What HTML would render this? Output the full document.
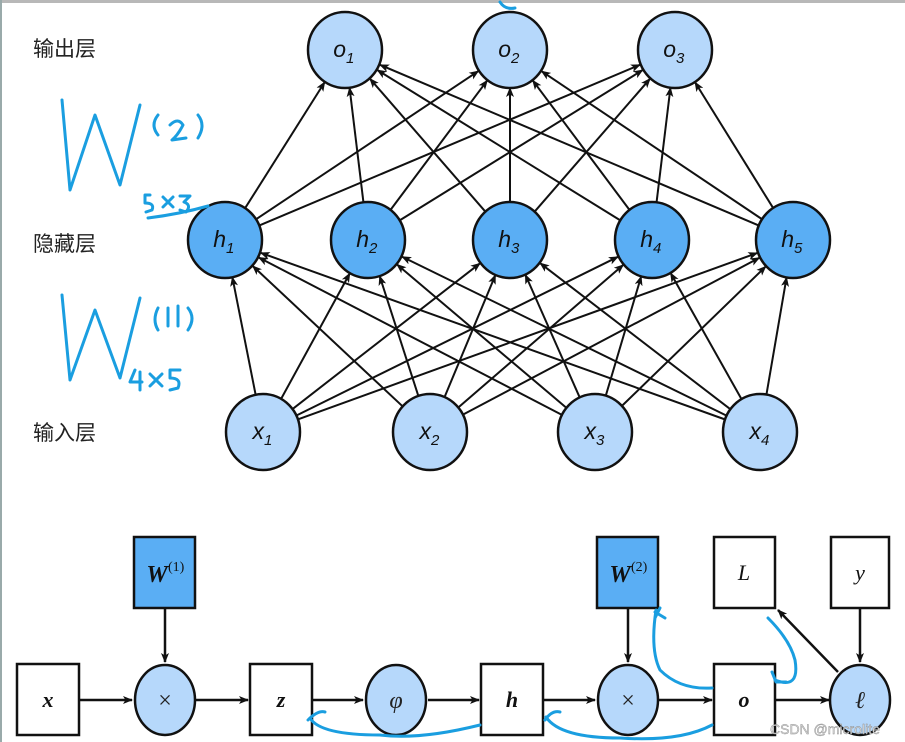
<!DOCTYPE html>
<html><head><meta charset="utf-8"><style>
html,body{margin:0;padding:0;background:#fff;}
svg{display:block;}
</style></head><body>
<svg id="s" width="905" height="742" viewBox="0 0 905 742" xmlns="http://www.w3.org/2000/svg">
<defs>
<marker id="ar" markerWidth="10" markerHeight="8" refX="9" refY="4" orient="auto" markerUnits="userSpaceOnUse">
<path d="M0,0 L10,4 L0,8 L2.5,4 Z" fill="#111"/></marker>
</defs>
<rect x="0" y="0" width="905" height="742" fill="#fff"/>
<rect x="0" y="0" width="905" height="3" fill="#b8b8b8"/>
<rect x="0" y="0" width="2" height="742" fill="#9aa"/>
<g id="edges" stroke="#111" stroke-width="2" fill="none"></g>
<g id="nodes"></g>
<g font-family="'Liberation Sans','Noto Sans CJK SC',sans-serif" font-size="21" fill="#222">
<text x="33" y="56">输出层</text>
<text x="33" y="251">隐藏层</text>
<text x="33" y="440">输入层</text>
</g>
<g fill="none" stroke="#1a9ee0" stroke-width="3" stroke-linecap="round" stroke-linejoin="round">
<path d="M62,100 L70,190 L95,115 L120,185 L140,105"/>
<path d="M158,135 Q150,125 158,115"/><path d="M170,125 Q178,117 183,125 Q178,135 172,140 L186,138"/><path d="M198,115 Q206,125 198,138"/>
<path d="M150,195 L145,195 L145,203 Q155,203 152,210 L146,212"/><path d="M163,197 L173,207 M173,197 L163,207"/><path d="M180,196 L190,196 L184,202 Q192,205 186,212 L180,210"/>
<path d="M148,218 Q180,214 208,206"/>
<path d="M62,295 L70,380 L95,310 L120,378 L140,298"/>
<path d="M158,308 Q152,320 158,330"/><path d="M168,308 L168,326 M178,306 L178,326"/><path d="M188,308 Q196,318 188,330"/>
<path d="M135,370 L130,382 L142,382 M140,372 L140,390"/><path d="M150,374 L162,386 M162,374 L150,386"/><path d="M180,370 L170,370 L170,378 Q182,378 178,388 L170,390"/>
<path d="M500,2 Q505,10 515,8"/>
<path d="M308,720 Q318,710 325,712 M310,718 Q320,735 380,735 Q420,740 480,725"/>
<path d="M545,720 Q552,710 560,712 M546,717 Q560,738 620,738 Q680,742 712,725"/>
<path d="M660,608 L655,618 M655,612 L665,618 M656,610 Q650,650 660,670 Q680,690 712,688"/>
<path d="M768,618 Q790,640 795,660 Q800,690 775,680 M772,672 L776,682 L786,682"/>
</g>
<g font-family="'Liberation Sans',sans-serif" font-size="14" fill="#ddd" stroke="#888" stroke-width="0.4"><text x="770" y="734">CSDN @microlite</text></g>
</svg>
<script>
var NS="http://www.w3.org/2000/svg";
var E=document.getElementById('edges'),N=document.getElementById('nodes');
function el(t,a,p){var e=document.createElementNS(NS,t);for(var k in a)e.setAttribute(k,a[k]);(p||N).appendChild(e);return e;}
var R=37;
var O=[[345,50],[510,50],[675,50]],H=[[225,240],[368,240],[510,240],[652,240],[793,240]],X=[[263,432],[430,432],[595,432],[760,432]];
function conn(a,b,r1,r2){var dx=b[0]-a[0],dy=b[1]-a[1],d=Math.hypot(dx,dy);el('line',{x1:a[0]+dx/d*r1,y1:a[1]+dy/d*r1,x2:b[0]-dx/d*r2,y2:b[1]-dy/d*r2,'marker-end':'url(#ar)'},E);}
X.forEach(function(a){H.forEach(function(b){conn(a,b,R,R+1);});});
H.forEach(function(a){O.forEach(function(b){conn(a,b,R,R+1);});});
function node(c,fill,lab,sub){el('ellipse',{cx:c[0],cy:c[1],rx:R,ry:R+1,fill:fill,stroke:'#111','stroke-width':2.5});
var t=el('text',{x:c[0]+1,y:c[1]+7,'font-family':"'Liberation Sans',sans-serif",'font-size':23,'font-style':'italic','text-anchor':'end',fill:'#111'});t.textContent=lab;
var s=el('text',{x:c[0]+1,y:c[1]+13,'font-family':"'Liberation Sans',sans-serif",'font-size':15,'font-style':'italic','text-anchor':'start',fill:'#111'});s.textContent=sub;}
O.forEach(function(c,i){node(c,'#b6d8fb','o',i+1);});
H.forEach(function(c,i){node(c,'#5aaef4','h',i+1);});
X.forEach(function(c,i){node(c,'#b6d8fb','x',i+1);});
var G=el('g',{});
function box(x,y,w,h,fill){el('rect',{x:x,y:y,width:w,height:h,fill:fill,stroke:'#111','stroke-width':2.5},G);}
function lbl(x,y,t,sz){var e=el('text',{x:x,y:y,'font-family':"'Liberation Serif',serif",'font-size':sz||22,'font-style':'italic','font-weight':'bold','text-anchor':'middle',fill:'#111'},G);e.textContent=t;return e;}
var yT=664,cy=700;
function arrow(x1,y1,x2,y2){el('line',{x1:x1,y1:y1,x2:x2,y2:y2,stroke:'#111','stroke-width':2.5,'marker-end':'url(#ar)'},G);}
arrow(79,cy,132,cy);arrow(196,cy,248,cy);arrow(313,cy,363,cy);arrow(428,cy,479,cy);arrow(543,cy,595,cy);arrow(659,cy,712,cy);arrow(775,cy,829,cy);
arrow(165,608,165,662);arrow(628,608,628,662);arrow(860,608,860,662);arrow(838,672,778,610);
box(17,yT,62,71,'#fff');box(250,yT,62,71,'#fff');box(481,yT,62,71,'#fff');box(714,yT,61,71,'#fff');
box(134,537,61,71,'#5aaef4');box(597,537,61,71,'#5aaef4');box(714,537,61,71,'#fff');box(831,537,58,71,'#fff');
[[165,'×'],[396,'φ'],[628,'×'],[860,'ℓ']].forEach(function(c){el('ellipse',{cx:c[0],cy:cy,rx:30,ry:35,fill:'#b6d8fb',stroke:'#111','stroke-width':2.5},G);
var t=el('text',{x:c[0],y:cy+8,'font-family':"'Liberation Serif','DejaVu Serif',serif",'font-size':24,'font-style':c[1]=='×'?'normal':'italic','text-anchor':'middle',fill:'#222'},G);t.textContent=c[1];});
lbl(48,707,'x');lbl(281,707,'z');lbl(512,707,'h');lbl(744,707,'o');
lbl(157,582,'W',24);var s1=el('text',{x:168,y:571,'font-family':"'Liberation Serif',serif",'font-size':14,fill:'#111'},G);s1.textContent='(1)';
lbl(620,582,'W',24);var s2=el('text',{x:631,y:571,'font-family':"'Liberation Serif',serif",'font-size':14,fill:'#111'},G);s2.textContent='(2)';
var L=el('text',{x:744,y:580,'font-family':"'Liberation Serif',serif",'font-size':22,'font-style':'italic','text-anchor':'middle',fill:'#111'},G);L.textContent='L';
var Y=el('text',{x:860,y:580,'font-family':"'Liberation Serif',serif",'font-size':22,'font-style':'italic','text-anchor':'middle',fill:'#111'},G);Y.textContent='y';
</script>
</body></html>
